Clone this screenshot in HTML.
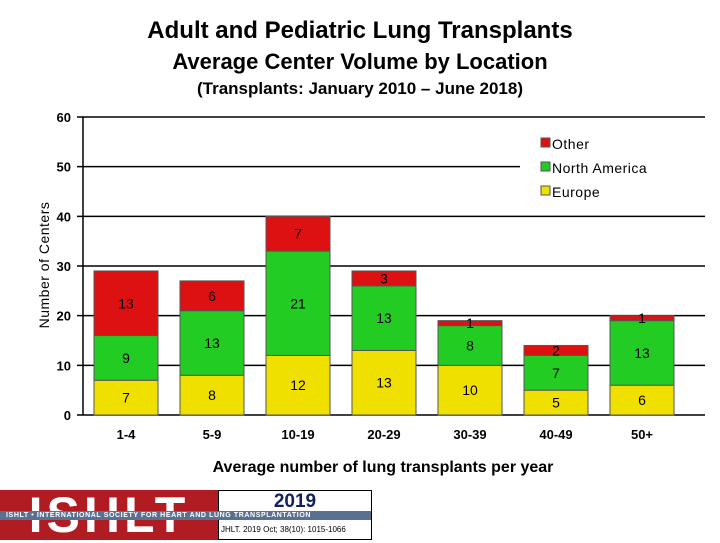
<!DOCTYPE html>
<html><head><meta charset="utf-8"><style>
body{margin:0;width:720px;height:540px;background:#fff;font-family:"Liberation Sans",sans-serif;overflow:hidden;position:relative}
.t{position:absolute;width:720px;text-align:center;left:0;font-weight:bold}
</style></head><body>
<div class="t" style="top:17px;font-size:24px">Adult and Pediatric Lung Transplants</div>
<div class="t" style="top:49px;font-size:22px">Average Center Volume by Location</div>
<div class="t" style="top:79px;font-size:17px">(Transplants: January 2010 – June 2018)</div>
<svg id="c" width="720" height="540" style="position:absolute;left:0;top:0"></svg>
<div style="position:absolute;left:0;top:490px;width:218px;height:50px;background:#b01c22;color:#fff;font-size:50px;font-weight:bold;line-height:50px;text-align:center;letter-spacing:4px">ISHLT</div>
<div style="position:absolute;left:218px;top:490px;width:152px;height:48px;border:1px solid #000;background:#fff">
<div style="text-align:center;font-size:19px;font-weight:bold;color:#102060;margin-top:0">2019</div>
<div style="position:absolute;top:34px;left:2px;font-size:8px">JHLT. 2019 Oct; 38(10): 1015-1066</div></div>
<div style="position:absolute;left:0;top:511px;width:371px;height:9px;background:#5a7090;color:#fff;font-size:7px;font-weight:bold;line-height:9px;white-space:nowrap;letter-spacing:0.6px;padding-left:6px;box-sizing:border-box">ISHLT • INTERNATIONAL SOCIETY FOR HEART AND LUNG TRANSPLANTATION</div>
<script>
const categories=["1-4","5-9","10-19","20-29","30-39","40-49","50+"];
const europe=[7,8,12,13,10,5,6];
const northAmerica=[9,13,21,13,8,7,13];
const other=[13,6,7,3,1,2,1];
const yTicks=[0,10,20,30,40,50,60];
const svg=document.getElementById('c');const NS="http://www.w3.org/2000/svg";
const X0=83,X1=705,Y0=415,Y1=117;
const y=v=>Y0-(v/60)*(Y0-Y1);
const step=86;
const xc=i=>X0+43+step*i;
function mk(t,a,txt){const e=document.createElementNS(NS,t);for(const k in a)e.setAttribute(k,a[k]);if(txt!==undefined)e.textContent=txt;svg.appendChild(e);return e;}
yTicks.forEach(v=>{
 const l=mk('line',{x1:X0-6,x2:X1,y1:y(v),y2:y(v),stroke:'#000','stroke-width':1.5});
 
 
 const t=mk('text',{x:X0-12,y:y(v)+5,'text-anchor':'end','font-size':13,'font-weight':'bold'},v);
 
 
});
const ax=mk('line',{x1:X0,x2:X0,y1:Y1,y2:Y0,stroke:'#000','stroke-width':1.5});


const yt=mk('text',{x:0,y:0,transform:'translate(49,265) rotate(-90)','text-anchor':'middle','font-size':14,'letter-spacing':0.5},'Number of Centers');


const lg=mk('rect',{x:520,y:130,width:185,height:77,fill:'#fff'});


const series=[[europe,'#f0e000','europe'],[northAmerica,'#22cc22','north-america'],[other,'#dd1111','other']];
const bw=64;
categories.forEach((c,i)=>{
 let base=0;
 series.forEach(([arr,col,nm])=>{
  const v=arr[i];
  const r=mk('rect',{x:xc(i)-bw/2,y:y(base+v),width:bw,height:y(base)-y(base+v),fill:col,stroke:'#555','stroke-width':1});
  
  
  const t=mk('text',{x:xc(i),y:(y(base)+y(base+v))/2+5,'text-anchor':'middle','font-size':14},v);
  
  
  base+=v;
 });
 const t=mk('text',{x:xc(i),y:439,'text-anchor':'middle','font-size':13,'font-weight':'bold'},c);
 
 
});
const xt=mk('text',{x:383,y:472,'text-anchor':'middle','font-size':16,'font-weight':'bold'},'Average number of lung transplants per year');


[['Other','#dd1111',149],['North America','#22cc22',173],['Europe','#f0e000',197]].forEach(([n,c,yy])=>{
 const s=mk('rect',{x:541,y:yy-11,width:9,height:9,fill:c,stroke:'#555'});
 
 
 const t=mk('text',{x:552,y:yy,'font-size':14,'letter-spacing':0.5},n);
 
 
});
</script>
</body></html>
